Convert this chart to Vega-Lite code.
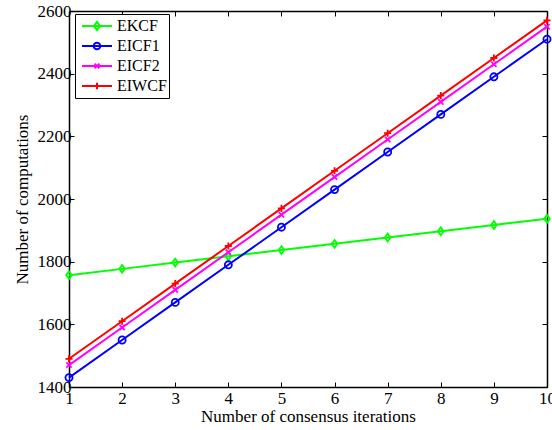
{
  "$schema": "https://vega.github.io/schema/vega-lite/v6.json",
  "autosize": {"type": "none"},
  "padding": {"left": 69, "top": 11, "right": 5, "bottom": 43},
  "width": 478,
  "height": 376,
  "background": "white",
  "config": {
    "font": "Liberation Serif",
    "view": {"stroke": null},
    "axis": {
      "labelFont": "Liberation Serif",
      "titleFont": "Liberation Serif",
      "labelFontSize": 17,
      "titleFontSize": 17,
      "titleFontWeight": "normal",
      "labelColor": "black",
      "titleColor": "black",
      "domainColor": "black",
      "domainWidth": 1.5,
      "tickColor": "black",
      "tickWidth": 1,
      "tickSize": -5,
      "grid": false,
      "format": "d"
    },
    "legend": {
      "labelFont": "Liberation Serif",
      "labelFontSize": 16,
      "labelColor": "black"
    }
  },
  "data": {
    "values": [
      {"iter": 1, "series": "EKCF", "value": 1757},
      {"iter": 2, "series": "EKCF", "value": 1777},
      {"iter": 3, "series": "EKCF", "value": 1797},
      {"iter": 4, "series": "EKCF", "value": 1817},
      {"iter": 5, "series": "EKCF", "value": 1837},
      {"iter": 6, "series": "EKCF", "value": 1857},
      {"iter": 7, "series": "EKCF", "value": 1877},
      {"iter": 8, "series": "EKCF", "value": 1897},
      {"iter": 9, "series": "EKCF", "value": 1917},
      {"iter": 10, "series": "EKCF", "value": 1937},
      {"iter": 1, "series": "EICF1", "value": 1430},
      {"iter": 2, "series": "EICF1", "value": 1550},
      {"iter": 3, "series": "EICF1", "value": 1670},
      {"iter": 4, "series": "EICF1", "value": 1790},
      {"iter": 5, "series": "EICF1", "value": 1910},
      {"iter": 6, "series": "EICF1", "value": 2030},
      {"iter": 7, "series": "EICF1", "value": 2150},
      {"iter": 8, "series": "EICF1", "value": 2270},
      {"iter": 9, "series": "EICF1", "value": 2390},
      {"iter": 10, "series": "EICF1", "value": 2510},
      {"iter": 1, "series": "EICF2", "value": 1470},
      {"iter": 2, "series": "EICF2", "value": 1590},
      {"iter": 3, "series": "EICF2", "value": 1710},
      {"iter": 4, "series": "EICF2", "value": 1830},
      {"iter": 5, "series": "EICF2", "value": 1950},
      {"iter": 6, "series": "EICF2", "value": 2070},
      {"iter": 7, "series": "EICF2", "value": 2190},
      {"iter": 8, "series": "EICF2", "value": 2310},
      {"iter": 9, "series": "EICF2", "value": 2430},
      {"iter": 10, "series": "EICF2", "value": 2550},
      {"iter": 1, "series": "EIWCF", "value": 1490},
      {"iter": 2, "series": "EIWCF", "value": 1610},
      {"iter": 3, "series": "EIWCF", "value": 1730},
      {"iter": 4, "series": "EIWCF", "value": 1850},
      {"iter": 5, "series": "EIWCF", "value": 1970},
      {"iter": 6, "series": "EIWCF", "value": 2090},
      {"iter": 7, "series": "EIWCF", "value": 2210},
      {"iter": 8, "series": "EIWCF", "value": 2330},
      {"iter": 9, "series": "EIWCF", "value": 2450},
      {"iter": 10, "series": "EIWCF", "value": 2570}
    ]
  },
  "layer": [
    {
      "mark": {"type": "line", "strokeWidth": 2},
      "encoding": {
        "x": {
          "field": "iter", "type": "quantitative",
          "scale": {"domain": [1, 10], "nice": false, "zero": false},
          "axis": {"orient": "bottom", "title": "Number of consensus iterations", "values": [1,2,3,4,5,6,7,8,9,10], "labelPadding": 8, "titlePadding": 2, "labelFlush": false}
        },
        "y": {
          "field": "value", "type": "quantitative",
          "scale": {"domain": [1400, 2600], "nice": false, "zero": false},
          "axis": {"orient": "left", "title": "Number of computations", "values": [1400,1600,1800,2000,2200,2400,2600], "labelPadding": 3, "titlePadding": 6, "labelFlush": false}
        },
        "color": {
          "field": "series", "type": "nominal",
          "scale": {"domain": ["EKCF", "EICF1", "EICF2", "EIWCF"], "range": ["#00FF00", "#0000FF", "#FF00FF", "#FF0000"]},
          "legend": {
            "title": null,
            "orient": "none",
            "legendX": 6,
            "legendY": 3,
            "padding": 2,
            "strokeColor": "black",
            "fillColor": "white",
            "symbolSize": 900,
            "symbolStrokeWidth": 2,
            "symbolFillColor": "transparent",
            "symbolOffset": 4,
            "clipHeight": 20,
            "rowPadding": 0,
            "labelOffset": 4,
            "encode": {
              "legend": {"update": {"strokeWidth": {"value": 1}}},
              "symbols": {
                "update": {
                  "shape": {"signal": "datum.value === 'EKCF' ? 'M-1,0L1,0M-0.2,0L0,-0.27L0.2,0L0,0.27Z' : datum.value === 'EICF1' ? 'M-1,0L1,0M-0.22,0A0.22,0.22 0 1,0 0.22,0A0.22,0.22 0 1,0 -0.22,0' : datum.value === 'EICF2' ? 'M-1,0L1,0M-0.16,-0.16L0.16,0.16M-0.16,0.16L0.16,-0.16' : 'M-1,0L1,0M-0.22,0L0.22,0M0,-0.22L0,0.22'"},
                  "fill": {"value": "transparent"}
                }
              }
            }
          }
        }
      }
    },
    {
      "transform": [{"filter": "datum.series === 'EKCF'"}],
      "mark": {"type": "point", "filled": false, "strokeWidth": 1.8, "size": 50, "opacity": 1, "shape": "M-0.8,0L0,-1.1L0.8,0L0,1.1Z"},
      "encoding": {
        "x": {
          "field": "iter", "type": "quantitative",
          "axis": {"orient": "top", "title": null, "labels": false, "values": [1,2,3,4,5,6,7,8,9,10], "domain": true}
        },
        "y": {
          "field": "value", "type": "quantitative",
          "axis": {"orient": "right", "title": null, "labels": false, "values": [1400,1600,1800,2000,2200,2400,2600], "domain": true}
        },
        "color": {"field": "series", "type": "nominal"}
      }
    },
    {
      "transform": [{"filter": "datum.series === 'EICF1'"}],
      "mark": {"type": "point", "filled": false, "strokeWidth": 1.8, "size": 50, "opacity": 1, "shape": "circle"},
      "encoding": {
        "x": {"field": "iter", "type": "quantitative", "axis": null},
        "y": {"field": "value", "type": "quantitative", "axis": null},
        "color": {"field": "series", "type": "nominal"}
      }
    },
    {
      "transform": [{"filter": "datum.series === 'EICF2'"}],
      "mark": {"type": "point", "filled": false, "strokeWidth": 1.8, "size": 50, "opacity": 1, "shape": "M-0.75,-0.75L0.75,0.75M-0.75,0.75L0.75,-0.75"},
      "encoding": {
        "x": {"field": "iter", "type": "quantitative", "axis": null},
        "y": {"field": "value", "type": "quantitative", "axis": null},
        "color": {"field": "series", "type": "nominal"}
      }
    },
    {
      "transform": [{"filter": "datum.series === 'EIWCF'"}],
      "mark": {"type": "point", "filled": false, "strokeWidth": 1.8, "size": 50, "opacity": 1, "shape": "M-1,0L1,0M0,-1L0,1"},
      "encoding": {
        "x": {"field": "iter", "type": "quantitative", "axis": null},
        "y": {"field": "value", "type": "quantitative", "axis": null},
        "color": {"field": "series", "type": "nominal"}
      }
    }
  ],
  "resolve": {"axis": {"x": "independent", "y": "independent"}}
}
